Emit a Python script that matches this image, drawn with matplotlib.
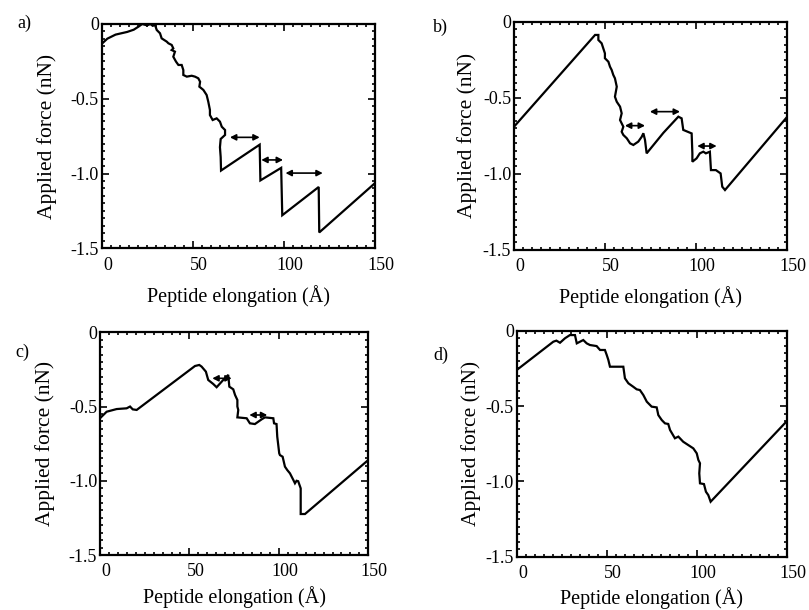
import matplotlib
matplotlib.use("Agg")
import matplotlib.pyplot as plt
from matplotlib.ticker import MultipleLocator
import matplotlib.transforms as mtransforms

plt.rcParams['font.family'] = ['Liberation Serif', 'DejaVu Serif']

# ---------------- data ----------------
a_x = [0, 3.1, 7.6, 14, 17.6, 20.4, 22.2, 24.9, 26.7, 28.0, 29.3, 30.2, 32.0, 32.9, 35.7, 36.6,
       38.4, 39.3, 38.4, 40.2, 39.3, 40.8, 42.1, 43.9, 44.8, 44.8, 46.7, 49.4, 51.2, 53.0, 54.0,
       53.6, 55.8, 57.6, 58.5, 59.4, 59.4, 60.9, 63.1, 64.9, 65.9, 67.7, 67.7, 65.3, 64.9, 65.3,
       65.5, 86.7, 87.1, 98.5, 99.1, 119.1, 119.4, 150]
a_y = [-0.133, -0.098, -0.071, -0.053, -0.038, -0.016, 0.0, -0.009, 0.0, -0.012, -0.007,
       -0.04, -0.062, -0.096, -0.118, -0.129, -0.14, -0.163, -0.174, -0.185, -0.219, -0.252,
       -0.274, -0.274, -0.308, -0.341, -0.352, -0.346, -0.352, -0.363, -0.386, -0.419, -0.441,
       -0.475, -0.52, -0.575, -0.609, -0.642, -0.631, -0.653, -0.687, -0.709, -0.742, -0.769,
       -0.824, -0.89, -0.98, -0.807, -1.046, -0.962, -1.279, -1.09, -1.394, -1.064]
a_arrows = [(70.4, 86.7, -0.758), (87.6, 99.5, -0.909), (100.9, 121.3, -0.997)]

b_x = [0, 44.5, 46.3, 46.3, 48.1, 49.0, 49.9, 49.9, 51.8, 52.7, 53.6, 54.5, 55.4, 56.4, 55.4,
       56.4, 58.2, 59.1, 58.2, 59.1, 60.0, 59.1, 60.0, 61.9, 63.7, 65.5, 68.2, 70.1, 71.0, 71.9,
       72.8, 82.0, 90.2, 92.0, 92.9, 97.5, 97.9, 97.9, 100.2, 102.0, 103.9, 105.3, 107.5, 108.1,
       110.8, 113.4, 114.3, 115.8, 150]
b_y = [-0.69, -0.087, -0.087, -0.12, -0.142, -0.175, -0.208, -0.24, -0.263, -0.296, -0.317,
       -0.35, -0.372, -0.427, -0.493, -0.526, -0.558, -0.602, -0.646, -0.668, -0.69, -0.723,
       -0.744, -0.766, -0.799, -0.81, -0.788, -0.756, -0.733, -0.777, -0.865, -0.73, -0.624,
       -0.635, -0.711, -0.734, -0.865, -0.92, -0.898, -0.865, -0.854, -0.865, -0.854, -0.975,
       -0.975, -0.997, -1.084, -1.106, -0.624]
b_arrows = [(60.9, 71.9, -0.683), (74.6, 91.1, -0.591), (100.6, 111.2, -0.817)]

c_x = [0, 3.7, 9.3, 14.9, 16.8, 18.3, 20.5, 53.1, 55.5, 56.8, 59.2, 60.5, 63.3, 65.2, 68.9, 71.7,
       72.3, 74.5, 75.5, 76.8, 76.8, 77.3, 76.8, 82.0, 83.8, 86.6, 90.4, 92.2, 96.9, 97.3, 98.7,
       99.1, 100.2, 100.6, 102.1, 103.4, 104.7, 106.2, 108.1, 109.0, 109.9, 110.8, 112.2, 112.2,
       114.6, 150]
c_y = [-0.579, -0.535, -0.517, -0.512, -0.50, -0.519, -0.523, -0.227, -0.22, -0.231, -0.265,
       -0.321, -0.348, -0.37, -0.321, -0.287, -0.366, -0.384, -0.422, -0.456, -0.50, -0.523,
       -0.573, -0.579, -0.613, -0.618, -0.586, -0.573, -0.579, -0.613, -0.618, -0.703, -0.815,
       -0.827, -0.838, -0.905, -0.928, -0.95, -0.995, -1.017, -1.0, -1.003, -1.051, -1.224,
       -1.224, -0.86]
c_arrows = [(62.8, 73.6, -0.31), (83.5, 93.5, -0.557)]

d_x = [0, 20.3, 22.0, 24.0, 26.8, 29.5, 32.3, 33.3, 35.1, 36.9, 38.8, 40.6, 44.3, 46.2, 48.9,
       49.9, 50.8, 51.7, 59.1, 60.0, 61.9, 64.6, 66.5, 68.3, 70.2, 72.1, 74.8, 77.6, 78.5, 80.4,
       82.2, 84.0, 85.0, 87.7, 89.6, 92.3, 95.1, 97.9, 99.8, 100.7, 101.6, 101.2, 101.6, 103.8,
       104.9, 106.2, 107.5, 150]
d_y = [-0.261, -0.073, -0.066, -0.08, -0.05, -0.029, -0.029, -0.084, -0.073, -0.062, -0.084,
       -0.095, -0.102, -0.128, -0.128, -0.161, -0.194, -0.239, -0.239, -0.316, -0.349, -0.372,
       -0.389, -0.394, -0.427, -0.471, -0.504, -0.509, -0.56, -0.593, -0.615, -0.619, -0.659,
       -0.714, -0.703, -0.737, -0.759, -0.781, -0.814, -0.858, -0.88, -0.947, -1.013, -1.018,
       -1.069, -1.091, -1.135, -0.597]
d_arrows = []

x_ticks = [0, 50, 100, 150]
x_ticklabels = ['0', '50', '100', '150']
y_ticks = [0, -0.5, -1.0, -1.5]
y_ticklabels = ['0', '-0.5', '-1.0', '-1.5']
panel_letters = ['a)', 'b)', 'c)', 'd)']
xlabel = 'Peptide elongation (Å)'
ylabel = 'Applied force (nN)'

# ---------------- figure ----------------
W, H = 809, 610
fig = plt.figure(figsize=(W / 100, H / 100), dpi=100)

# axes boxes in pixels: left, top, right, bottom
boxes = [(101.7, 24.0, 375.0, 248.3),
         (514.0, 21.7, 787.3, 250.0),
         (100.0, 332.3, 368.3, 555.0),
         (516.7, 330.7, 787.3, 556.7)]
letter_pos = [(17, 23), (433, 27), (15, 352), (433, 355)]
ylabel_pads = [10, 4, 10, 3]
xlabel_pads = [8, 8, 4.5, 3.5]
series = [(a_x, a_y, a_arrows), (b_x, b_y, b_arrows), (c_x, c_y, c_arrows), (d_x, d_y, d_arrows)]

shift = mtransforms.ScaledTranslation(6 / 100, 0, fig.dpi_scale_trans)

for i, (box, (xs, ys, arrows)) in enumerate(zip(boxes, series)):
    l, t, r, b = box
    ax = fig.add_axes([l / W, 1 - b / H, (r - l) / W, (b - t) / H])
    ax.plot(xs, ys, color='black', lw=1.6, solid_joinstyle='miter')
    for x0, x1, yy in arrows:
        ax.annotate('', xy=(x1, yy), xytext=(x0, yy),
                    arrowprops=dict(arrowstyle='<|-|>,head_length=0.35,head_width=0.18',
                                    color='black', lw=1.2, shrinkA=0, shrinkB=0))
    ax.set_xlim(0, 150)
    ax.set_ylim(-1.5, 0)
    ax.set_xticks(x_ticks)
    ax.set_xticklabels(x_ticklabels)
    ax.set_yticks(y_ticks)
    ax.set_yticklabels(y_ticklabels)
    ax.xaxis.set_minor_locator(MultipleLocator(5))
    ax.yaxis.set_minor_locator(MultipleLocator(0.05))
    ax.tick_params(which='both', direction='in', top=True, right=True, width=1.2,
                   labelsize=13)
    ax.tick_params(which='major', length=5)
    ax.tick_params(which='minor', length=2.5)
    ax.tick_params(axis='x', pad=6)
    ax.tick_params(axis='y', pad=2)
    for lab in ax.get_xticklabels():
        lab.set_transform(lab.get_transform() + shift)
    for sp in ax.spines.values():
        sp.set_linewidth(1.6)
    ax.set_xlabel(xlabel, fontsize=14.5, labelpad=xlabel_pads[i])
    ax.set_ylabel(ylabel, fontsize=15.5, labelpad=ylabel_pads[i])
    lx, ly = letter_pos[i]
    fig.text(lx / W, 1 - ly / H, panel_letters[i], fontsize=13, ha='left', va='center')

fig.savefig('out.png', dpi=100)
